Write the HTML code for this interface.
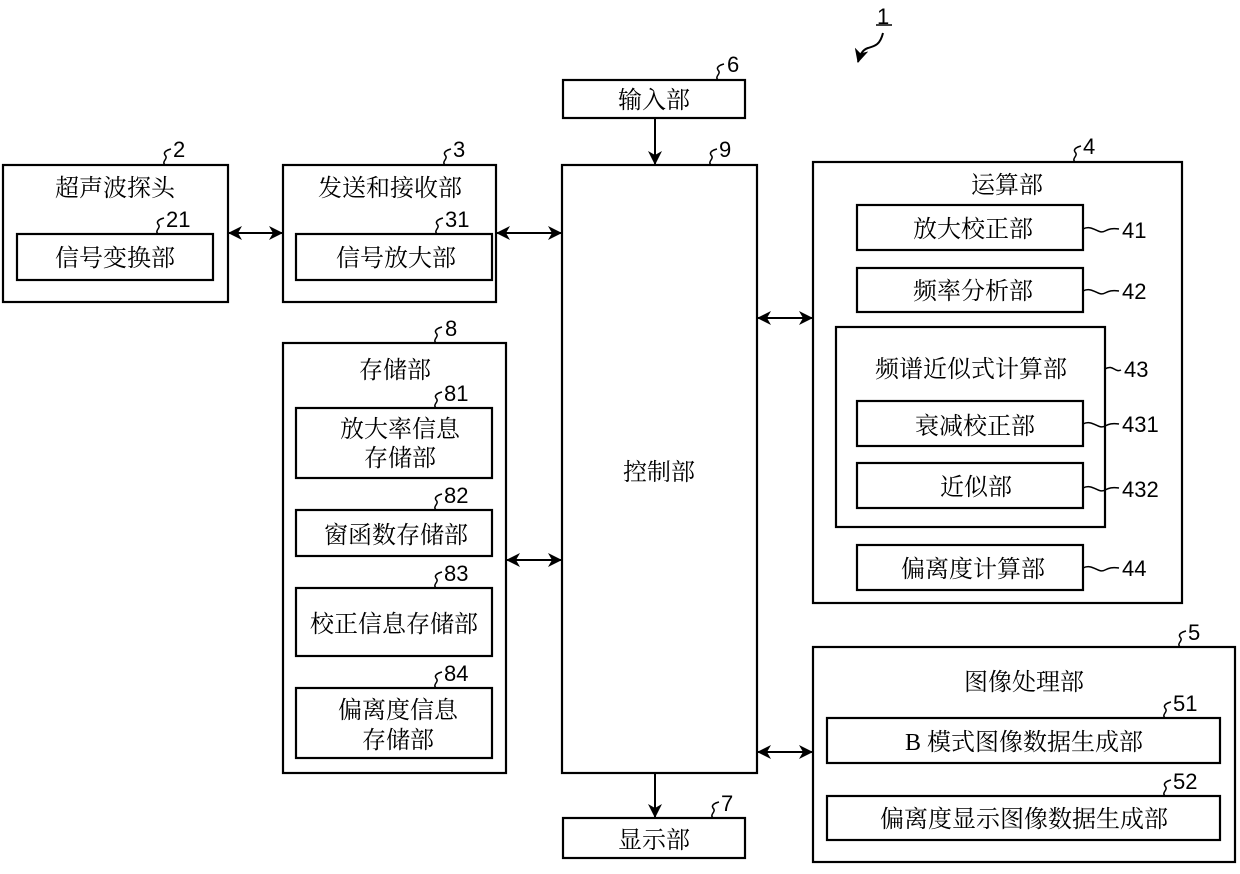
<!DOCTYPE html>
<html><head><meta charset="utf-8"><style>
body{margin:0;background:#fff}
svg text{font-family:"Liberation Sans","Noto Sans CJK SC",sans-serif;fill:#000}
.c{font-size:24px;text-anchor:middle;font-family:"Liberation Serif","Noto Serif CJK SC",serif}
.n{font-size:22px}
</style></head><body>
<svg width="1240" height="869" viewBox="0 0 1240 869" xmlns="http://www.w3.org/2000/svg">
<defs><marker id="a" markerWidth="14" markerHeight="14" refX="13" refY="7" orient="auto-start-reverse" markerUnits="userSpaceOnUse"><path d="M0,0 L14,7 L0,14 L4,7z" fill="#000"/></marker></defs>
<g fill="none" stroke="#000" stroke-width="2.2">
<rect x="3" y="165" width="225" height="137"/>
<rect x="17" y="234" width="196" height="46"/>
<rect x="283" y="165" width="213" height="137"/>
<rect x="296" y="234" width="196" height="46"/>
<rect x="563" y="80" width="182" height="38"/>
<rect x="562" y="165" width="195" height="608"/>
<rect x="563" y="818" width="182" height="40"/>
<rect x="283" y="343" width="223" height="430"/>
<rect x="296" y="408" width="196" height="70"/>
<rect x="296" y="510" width="196" height="46"/>
<rect x="296" y="588" width="196" height="68"/>
<rect x="296" y="688" width="196" height="70"/>
<rect x="813" y="162" width="369" height="441"/>
<rect x="857" y="205" width="226" height="45"/>
<rect x="857" y="268" width="226" height="44"/>
<rect x="836" y="327" width="269" height="200"/>
<rect x="857" y="401" width="226" height="45"/>
<rect x="857" y="463" width="226" height="45"/>
<rect x="857" y="545" width="226" height="45"/>
<rect x="813" y="647" width="422" height="215"/>
<rect x="827" y="718" width="393" height="45"/>
<rect x="827" y="796" width="393" height="44"/>
<g stroke-width="2">
<line x1="229" y1="233" x2="282" y2="233" marker-start="url(#a)" marker-end="url(#a)"/>
<line x1="497" y1="233" x2="561" y2="233" marker-start="url(#a)" marker-end="url(#a)"/>
<line x1="507" y1="560" x2="561" y2="560" marker-start="url(#a)" marker-end="url(#a)"/>
<line x1="758" y1="318" x2="812" y2="318" marker-start="url(#a)" marker-end="url(#a)"/>
<line x1="758" y1="752" x2="812" y2="752" marker-start="url(#a)" marker-end="url(#a)"/>
<line x1="655" y1="118" x2="655" y2="164" marker-end="url(#a)"/>
<line x1="655" y1="773" x2="655" y2="817" marker-end="url(#a)"/>
<path d="M883,33 C880,45 875,46 868,48 C862,50 860,55 858,62" marker-end="url(#a)"/>
<line x1="876" y1="25" x2="892" y2="25" stroke-width="1.5"/>
</g>
<g stroke-width="1.5">
<path d="M165,165 c-4,-4 4,-6 0,-10 c-2,-3 2,-5 6,-6"/>
<path d="M445,165 c-4,-4 4,-6 0,-10 c-2,-3 2,-5 6,-6"/>
<path d="M158,234 c-4,-4 4,-6 0,-10 c-2,-3 2,-5 6,-6"/>
<path d="M437,234 c-4,-4 4,-6 0,-10 c-2,-3 2,-5 6,-6"/>
<path d="M718,80 c-4,-4 4,-6 0,-10 c-2,-3 2,-5 6,-6"/>
<path d="M711,165 c-4,-4 4,-6 0,-10 c-2,-3 2,-5 6,-6"/>
<path d="M713,818 c-4,-4 4,-6 0,-10 c-2,-3 2,-5 6,-6"/>
<path d="M436,343 c-4,-4 4,-6 0,-10 c-2,-3 2,-5 6,-6"/>
<path d="M436,408 c-4,-4 4,-6 0,-10 c-2,-3 2,-5 6,-6"/>
<path d="M436,510 c-4,-4 4,-6 0,-10 c-2,-3 2,-5 6,-6"/>
<path d="M436,588 c-4,-4 4,-6 0,-10 c-2,-3 2,-5 6,-6"/>
<path d="M436,688 c-4,-4 4,-6 0,-10 c-2,-3 2,-5 6,-6"/>
<path d="M1075,162 c-4,-4 4,-6 0,-10 c-2,-3 2,-5 6,-6"/>
<path d="M1180,647 c-4,-4 4,-6 0,-10 c-2,-3 2,-5 6,-6"/>
<path d="M1165,718 c-4,-4 4,-6 0,-10 c-2,-3 2,-5 6,-6"/>
<path d="M1165,796 c-4,-4 4,-6 0,-10 c-2,-3 2,-5 6,-6"/>
<path d="M1083,229 c10,-5 15,6 22,2 c4,-2 7,-3 14,-2"/>
<path d="M1083,291 c10,-5 15,6 22,2 c4,-2 7,-3 14,-2"/>
<path d="M1105,369 c8,-5 10,4 16,1"/>
<path d="M1083,424 c10,-5 15,6 22,2 c4,-2 7,-3 14,-2"/>
<path d="M1083,488 c10,-5 15,6 22,2 c4,-2 7,-3 14,-2"/>
<path d="M1083,568 c10,-5 15,6 22,2 c4,-2 7,-3 14,-2"/>
</g>
</g>
<text class="n" x="877" y="24">1</text>
<text class="n" x="173" y="157">2</text>
<text class="n" x="453" y="157">3</text>
<text class="n" x="166" y="227">21</text>
<text class="n" x="445" y="227">31</text>
<text class="n" x="727" y="72">6</text>
<text class="n" x="719" y="157">9</text>
<text class="n" x="721" y="811">7</text>
<text class="n" x="445" y="336">8</text>
<text class="n" x="444" y="401">81</text>
<text class="n" x="444" y="503">82</text>
<text class="n" x="444" y="581">83</text>
<text class="n" x="444" y="681">84</text>
<text class="n" x="1083" y="154">4</text>
<text class="n" x="1188" y="640">5</text>
<text class="n" x="1173" y="711">51</text>
<text class="n" x="1173" y="789">52</text>
<text class="n" x="1122" y="238">41</text>
<text class="n" x="1122" y="299">42</text>
<text class="n" x="1124" y="377">43</text>
<text class="n" x="1122" y="432">431</text>
<text class="n" x="1122" y="497">432</text>
<text class="n" x="1122" y="576">44</text>
<text class="c" x="115" y="196">超声波探头</text>
<text class="c" x="115" y="266">信号变换部</text>
<text class="c" x="390" y="196">发送和接收部</text>
<text class="c" x="396" y="266">信号放大部</text>
<text class="c" x="654" y="108">输入部</text>
<text class="c" x="659" y="480">控制部</text>
<text class="c" x="654" y="848">显示部</text>
<text class="c" x="395" y="378">存储部</text>
<text class="c" x="400" y="437">放大率信息</text>
<text class="c" x="400" y="466">存储部</text>
<text class="c" x="396" y="543">窗函数存储部</text>
<text class="c" x="394" y="632">校正信息存储部</text>
<text class="c" x="398" y="718">偏离度信息</text>
<text class="c" x="398" y="748">存储部</text>
<text class="c" x="1007" y="193">运算部</text>
<text class="c" x="973" y="237">放大校正部</text>
<text class="c" x="973" y="299">频率分析部</text>
<text class="c" x="971" y="377">频谱近似式计算部</text>
<text class="c" x="975" y="434">衰减校正部</text>
<text class="c" x="976" y="495">近似部</text>
<text class="c" x="973" y="577">偏离度计算部</text>
<text class="c" x="1024" y="690">图像处理部</text>
<text class="c" x="1024" y="750">B 模式图像数据生成部</text>
<text class="c" x="1024" y="827">偏离度显示图像数据生成部</text>
</svg>
</body></html>
